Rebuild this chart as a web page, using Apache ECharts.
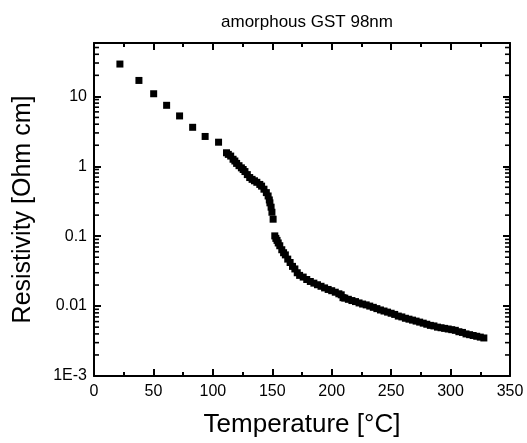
<!DOCTYPE html>
<html>
<head>
<meta charset="utf-8">
<script src="https://cdn.jsdelivr.net/npm/echarts@6/dist/echarts.min.js"></script>
<style>
html,body{margin:0;padding:0;background:#fff;}
#chart{width:527px;height:443px;}
</style>
</head>
<body>
<div id="chart"></div>
<script>
// Temperature [°C]
var temps = [
  21.8, 37.8, 50.2, 61.1, 72.0, 83.0, 93.5, 104.8,
  111.5, 113, 115, 117, 118.5, 120, 122, 124, 125.5, 127, 129, 131, 133, 135, 137, 139.5, 141, 143, 145, 146.5, 147.5, 148, 149, 149.7,
  150.7,
  152.1, 153, 154, 155, 156.3, 158, 159.5, 161, 163, 165, 167, 169, 171, 173, 176, 179, 182, 185, 188, 191, 194, 197, 200, 203, 206, 208,
  209.5, 211, 214, 217, 220, 223, 226, 229, 232, 235, 238, 241, 244, 247, 250, 253, 256, 259, 262, 265, 268, 271, 274, 277, 280, 283, 286, 289, 292, 295, 298, 301, 304, 307, 310, 313, 316, 319, 322, 325, 328
];
// Resistivity [Ohm cm]
var resist = [
  29, 16.9, 10.9, 7.45, 5.25, 3.61, 2.67, 2.21,
  1.56, 1.48, 1.40, 1.26, 1.19, 1.10, 1.02, 0.95, 0.90, 0.84, 0.76, 0.69, 0.65, 0.62, 0.59, 0.55, 0.52, 0.47, 0.42, 0.376, 0.33, 0.30, 0.26, 0.22,
  0.175,
  0.101, 0.093, 0.087, 0.080, 0.073, 0.064, 0.058, 0.054, 0.047, 0.042, 0.037, 0.034, 0.030, 0.0275, 0.026, 0.0240, 0.0225, 0.0213, 0.0202, 0.0192, 0.0182, 0.0173, 0.0166, 0.0158, 0.0150, 0.0145,
  0.0132, 0.0130, 0.0125, 0.0120, 0.0116, 0.0111, 0.0107, 0.0104, 0.0100, 0.0096, 0.0092, 0.0088, 0.0085, 0.0082, 0.0079, 0.0076, 0.0072, 0.0070, 0.0067, 0.0065, 0.0063, 0.0061, 0.0059, 0.0057, 0.0055, 0.0053, 0.0052, 0.0050, 0.0049, 0.0048, 0.0047, 0.0046, 0.0045, 0.0043, 0.0042, 0.0040, 0.0039, 0.0038, 0.0037, 0.0036, 0.0035
];
// y tick labels (powers of ten)
var yTickValues = [0.001, 0.01, 0.1, 1, 10];
var yTickLabels = ['1E-3', '0.01', '0.1', '1', '10'];
// log minor tick positions
var minorTickValues = [
  0.002,0.003,0.004,0.005,0.006,0.007,0.008,0.009,
  0.02,0.03,0.04,0.05,0.06,0.07,0.08,0.09,
  0.2,0.3,0.4,0.5,0.6,0.7,0.8,0.9,
  2,3,4,5,6,7,8,9,
  20,30,40,50
];

var FONT = '"Liberation Sans", Arial, Helvetica, sans-serif';
var points = temps.map(function (t, i) { return [t, resist[i]]; });

function yLabel(v) {
  for (var i = 0; i < yTickValues.length; i++) {
    if (Math.abs(Math.log10(v) - Math.log10(yTickValues[i])) < 1e-6) return yTickLabels[i];
  }
  return '';
}

var chart = echarts.init(document.getElementById('chart'), null, {renderer: 'canvas'});
var axisLineStyle = {color: '#000', width: 2};
function majorTick() { return {show: true, inside: true, length: 7, lineStyle: {color: '#000', width: 2}}; }
function xMinor() { return {show: true, splitNumber: 2, length: 4, lineStyle: {color: '#000', width: 2}}; }

chart.setOption({
  animation: false,
  backgroundColor: '#fff',
  title: {
    text: 'amorphous GST 98nm',
    left: 302, top: 9, textAlign: 'center',
    textStyle: {fontFamily: FONT, fontSize: 17, fontWeight: 'normal', color: '#000'}
  },
  grid: {left: 94, right: 17, top: 43, bottom: 66, containLabel: false},
  xAxis: [
    {
      type: 'value', min: 0, max: 350, interval: 50, position: 'bottom',
      axisLine: {show: true, onZero: false, lineStyle: axisLineStyle},
      axisTick: majorTick(), minorTick: xMinor(), splitLine: {show: false},
      name: 'Temperature [°C]', nameLocation: 'middle', nameGap: 36,
      nameTextStyle: {fontFamily: FONT, fontSize: 26, color: '#000'},
      axisLabel: {show: true, margin: 8, fontFamily: FONT, fontSize: 16, color: '#000'}
    },
    {
      type: 'value', min: 0, max: 350, interval: 50, position: 'top',
      axisLine: {show: true, onZero: false, lineStyle: axisLineStyle},
      axisTick: majorTick(), minorTick: xMinor(), splitLine: {show: false},
      axisLabel: {show: false}
    }
  ],
  yAxis: [
    {
      type: 'log', logBase: 10, min: 0.001, max: 58, position: 'left',
      axisLine: {show: true, onZero: false, lineStyle: axisLineStyle},
      axisTick: majorTick(), splitLine: {show: false},
      name: 'Resistivity [Ohm cm]', nameLocation: 'middle', nameGap: 58,
      nameTextStyle: {fontFamily: FONT, fontSize: 25, color: '#000'},
      axisLabel: {show: true, margin: 7, fontFamily: FONT, fontSize: 16, color: '#000', formatter: yLabel}
    },
    {
      type: 'log', logBase: 10, min: 0.001, max: 58, position: 'right',
      axisLine: {show: true, onZero: false, lineStyle: axisLineStyle},
      axisTick: majorTick(), splitLine: {show: false},
      axisLabel: {show: false}
    }
  ],
  series: [
    {
      type: 'custom',
      xAxisIndex: 0, yAxisIndex: 0,
      silent: true, clip: false, z: 5,
      data: minorTickValues.map(function (v) { return [0, v]; }),
      renderItem: function (params, api) {
        var v = api.value(1);
        var pl = api.coord([0, v]);
        var pr = api.coord([350, v]);
        var style = {stroke: '#000', lineWidth: 1.6};
        return {
          type: 'group',
          children: [
            {type: 'line', shape: {x1: pl[0], y1: pl[1], x2: pl[0] + 5, y2: pl[1]}, style: style},
            {type: 'line', shape: {x1: pr[0], y1: pr[1], x2: pr[0] - 5, y2: pr[1]}, style: style}
          ]
        };
      }
    },
    {
      type: 'scatter',
      xAxisIndex: 0, yAxisIndex: 0,
      symbol: 'rect', symbolSize: 7,
      itemStyle: {color: '#000', opacity: 1},
      data: points,
      z: 3
    }
  ]
});
</script>
</body>
</html>
